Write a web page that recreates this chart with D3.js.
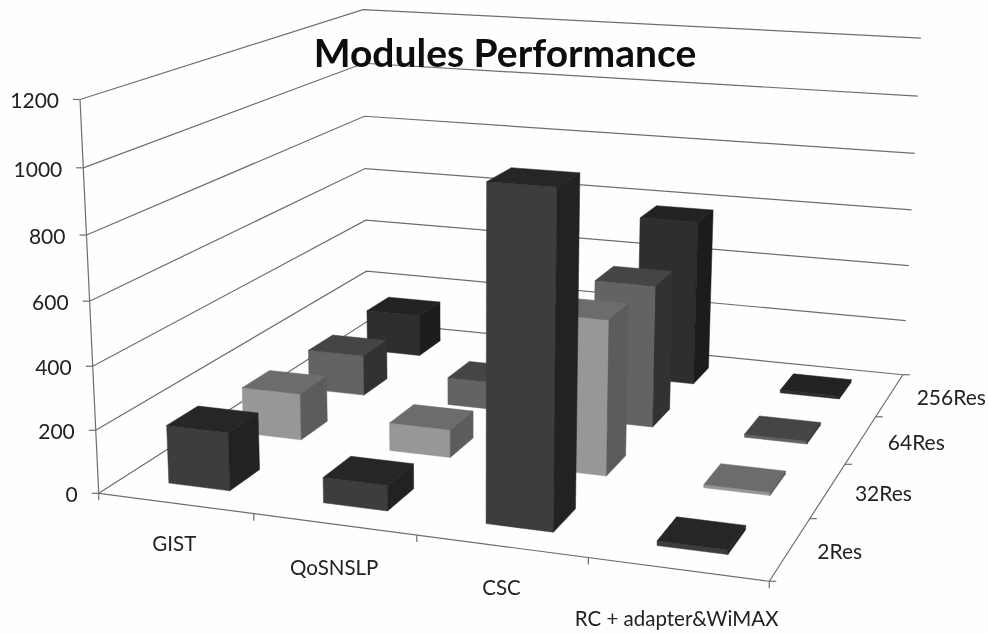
<!DOCTYPE html>
<html>
<head>
<meta charset="utf-8">
<script src="https://cdn.jsdelivr.net/npm/d3@7"></script>
<style>
  html, body { margin: 0; background: #fefefe; }
  svg { display: block; font-family: Lato, "Open Sans", sans-serif; }
</style>
</head>
<body>
<div id="chart"></div>
<script>
////////
// Data
const categories = ["GIST", "QoSNSLP", "CSC", "RC + adapter&WiMAX"];
const seriesNames = ["2Res", "32Res", "64Res", "256Res"]; // front row first
const res2 = [185, 80, 1015, 14];
const res32 = [155, 92, 500, 10];
const res64 = [140, 95, 480, 10];
const res256 = [150, 90, 580, 10];
const seriesValues = [res2, res32, res64, res256];
const valueTicks = [0, 200, 400, 600, 800, 1000, 1200];

// front, top, side colours per series
const faceColors = [
  ["#3d3d3d", "#272727", "#212121"],
  ["#979797", "#6c6c6c", "#5c5c5c"],
  ["#646464", "#444444", "#303030"],
  ["#2e2e2e", "#222222", "#1b1b1b"]
];

const svg_width = 988;
const svg_height = 633;

let svg = d3.select("#chart")
  .append("svg")
  .attr("width", svg_width)
  .attr("height", svg_height);

// the reference is a slightly soft scan
svg.append("filter")
  .attr("id", "soft")
  .append("feGaussianBlur")
  .attr("stdDeviation", 0.5);

let root = svg.append("g").attr("filter", "url(#soft)");

////////
// Scales work in a unit box: x along the categories, y up, z into the page
let xScale = d3.scaleBand().domain(categories).range([0, 1]).paddingInner(0.6).paddingOuter(0.3);
let zScale = d3.scaleBand().domain(seriesNames).range([0, 1]).paddingInner(0.6).paddingOuter(0.3);
let yScale = d3.scaleLinear().domain([0, 1200]).range([0, 1]);

////////
// Camera: fit a projective matrix to where the corners of the box sit on screen
const boxCorners = [
  [0, 0, 0, 99, 494], [1, 0, 0, 769, 581], [1, 0, 1, 903, 375], [0, 0, 1, 367, 321],
  [0, 1, 0, 80, 99], [0, 1, 1, 363, 10], [1, 1, 1, 921, 38]
];

function fitCamera(pts) {
  let rows = [];
  pts.forEach(([x, y, z, u, v]) => {
    rows.push([x, y, z, 1, 0, 0, 0, 0, -u * x, -u * y, -u * z, u]);
    rows.push([0, 0, 0, 0, x, y, z, 1, -v * x, -v * y, -v * z, v]);
  });
  // normal equations, then plain gaussian elimination
  let n = 11;
  let m = d3.range(n).map(i => d3.range(n + 1).map(j =>
    d3.sum(rows, r => r[i] * r[j])));
  for (let i = 0; i < n; i++) {
    let best = d3.greatest(d3.range(i, n), k => Math.abs(m[k][i]));
    [m[i], m[best]] = [m[best], m[i]];
    for (let k = 0; k < n; k++) {
      if (k === i) continue;
      let f = m[k][i] / m[i][i];
      for (let j = i; j <= n; j++) m[k][j] -= f * m[i][j];
    }
  }
  return m.map((r, i) => r[n] / r[i]);
}

const cam = fitCamera(boxCorners);

function project(x, y, z) {
  let w = cam[8] * x + cam[9] * y + cam[10] * z + 1;
  return [
    (cam[0] * x + cam[1] * y + cam[2] * z + cam[3]) / w,
    (cam[4] * x + cam[5] * y + cam[6] * z + cam[7]) / w
  ];
}

let path = d3.line();

function drawLine(g, a, b) {
  g.append("path").attr("d", path([a, b]));
}

////////
// Walls, floor edges and axis ticks
let grid = root.append("g")
  .attr("fill", "none")
  .attr("stroke", "#6e6e6e")
  .attr("stroke-width", 1.2);

valueTicks.forEach(t => {
  let h = yScale(t);
  grid.append("path").attr("d", path([project(0, h, 0), project(0, h, 1), project(1, h, 1)]));
  let p = project(0, h, 0);
  drawLine(grid, [p[0] - 7, p[1]], p);
});
drawLine(grid, project(0, 0, 0), project(0, 1, 0));
drawLine(grid, project(0, 0, 0), project(1, 0, 0));
drawLine(grid, project(1, 0, 0), project(1, 0, 1));

d3.range(categories.length + 1).forEach(i => {
  let p = project(i / categories.length, 0, 0);
  drawLine(grid, p, [p[0], p[1] + 7]);
});
d3.range(seriesNames.length + 1).forEach(i => {
  let p = project(1, 0, i / seriesNames.length);
  drawLine(grid, p, [p[0] + 7, p[1]]);
});

////////
// Bars, painted from the back row forward and right to left
let bars = [];
seriesNames.forEach((s, si) => {
  categories.forEach((c, ci) => {
    bars.push({ c, s, si, ci, value: seriesValues[si][ci] });
  });
});
bars.sort((a, b) => d3.descending(a.si, b.si) || d3.descending(a.ci, b.ci));

let barGroups = root.selectAll("g.bar")
  .data(bars)
  .enter()
  .append("g")
  .attr("class", "bar");

function barFaces(d) {
  let x0 = xScale(d.c), x1 = x0 + xScale.bandwidth();
  let z0 = zScale(d.s), z1 = z0 + zScale.bandwidth();
  let h = yScale(d.value);
  return [
    [[x0, 0, z0], [x1, 0, z0], [x1, h, z0], [x0, h, z0]],
    [[x0, h, z0], [x1, h, z0], [x1, h, z1], [x0, h, z1]],
    [[x1, 0, z0], [x1, 0, z1], [x1, h, z1], [x1, h, z0]]
  ];
}

barGroups.selectAll("path")
  .data(d => barFaces(d).map((pts, i) => ({ pts, color: faceColors[d.si][i] })))
  .enter()
  .append("path")
  .attr("d", d => path(d.pts.map(p => project(p[0], p[1], p[2]))) + "Z")
  .attr("fill", d => d.color)
  .attr("stroke", d => d.color)
  .attr("stroke-width", 0.5);

////////
// Text
root.append("text")
  .attr("x", 505)
  .attr("y", 67)
  .attr("text-anchor", "middle")
  .attr("font-size", 39)
  .attr("font-weight", 700)
  .attr("fill", "#0c0c0c")
  .text("Modules Performance");

root.selectAll("text.value")
  .data(valueTicks)
  .enter()
  .append("text")
  .attr("class", "value")
  .attr("text-anchor", "end")
  .attr("font-size", 21)
  .attr("fill", "#222")
  .attr("x", d => project(0, yScale(d), 0)[0] - 21)
  .attr("y", d => project(0, yScale(d), 0)[1] + 9)
  .text(d => d);

const catLabelShift = [[-1, -1], [0, 2], [0, 0], [-1, 8]];
root.selectAll("text.cat")
  .data(categories)
  .enter()
  .append("text")
  .attr("class", "cat")
  .attr("text-anchor", "middle")
  .attr("font-size", 20.5)
  .attr("fill", "#222")
  .attr("x", (d, i) => project(xScale(d) + xScale.bandwidth() / 2, 0, 0)[0] + catLabelShift[i][0])
  .attr("y", (d, i) => project(xScale(d) + xScale.bandwidth() / 2, 0, 0)[1] + 49 + catLabelShift[i][1])
  .text(d => d);

root.selectAll("text.series")
  .data(seriesNames)
  .enter()
  .append("text")
  .attr("class", "series")
  .attr("font-size", 21)
  .attr("fill", "#222")
  .attr("x", d => project(1, 0, zScale(d) + zScale.bandwidth() / 2)[0] + 27)
  .attr("y", d => project(1, 0, zScale(d) + zScale.bandwidth() / 2)[1] + 10)
  .text(d => d);
</script>
</body>
</html>
